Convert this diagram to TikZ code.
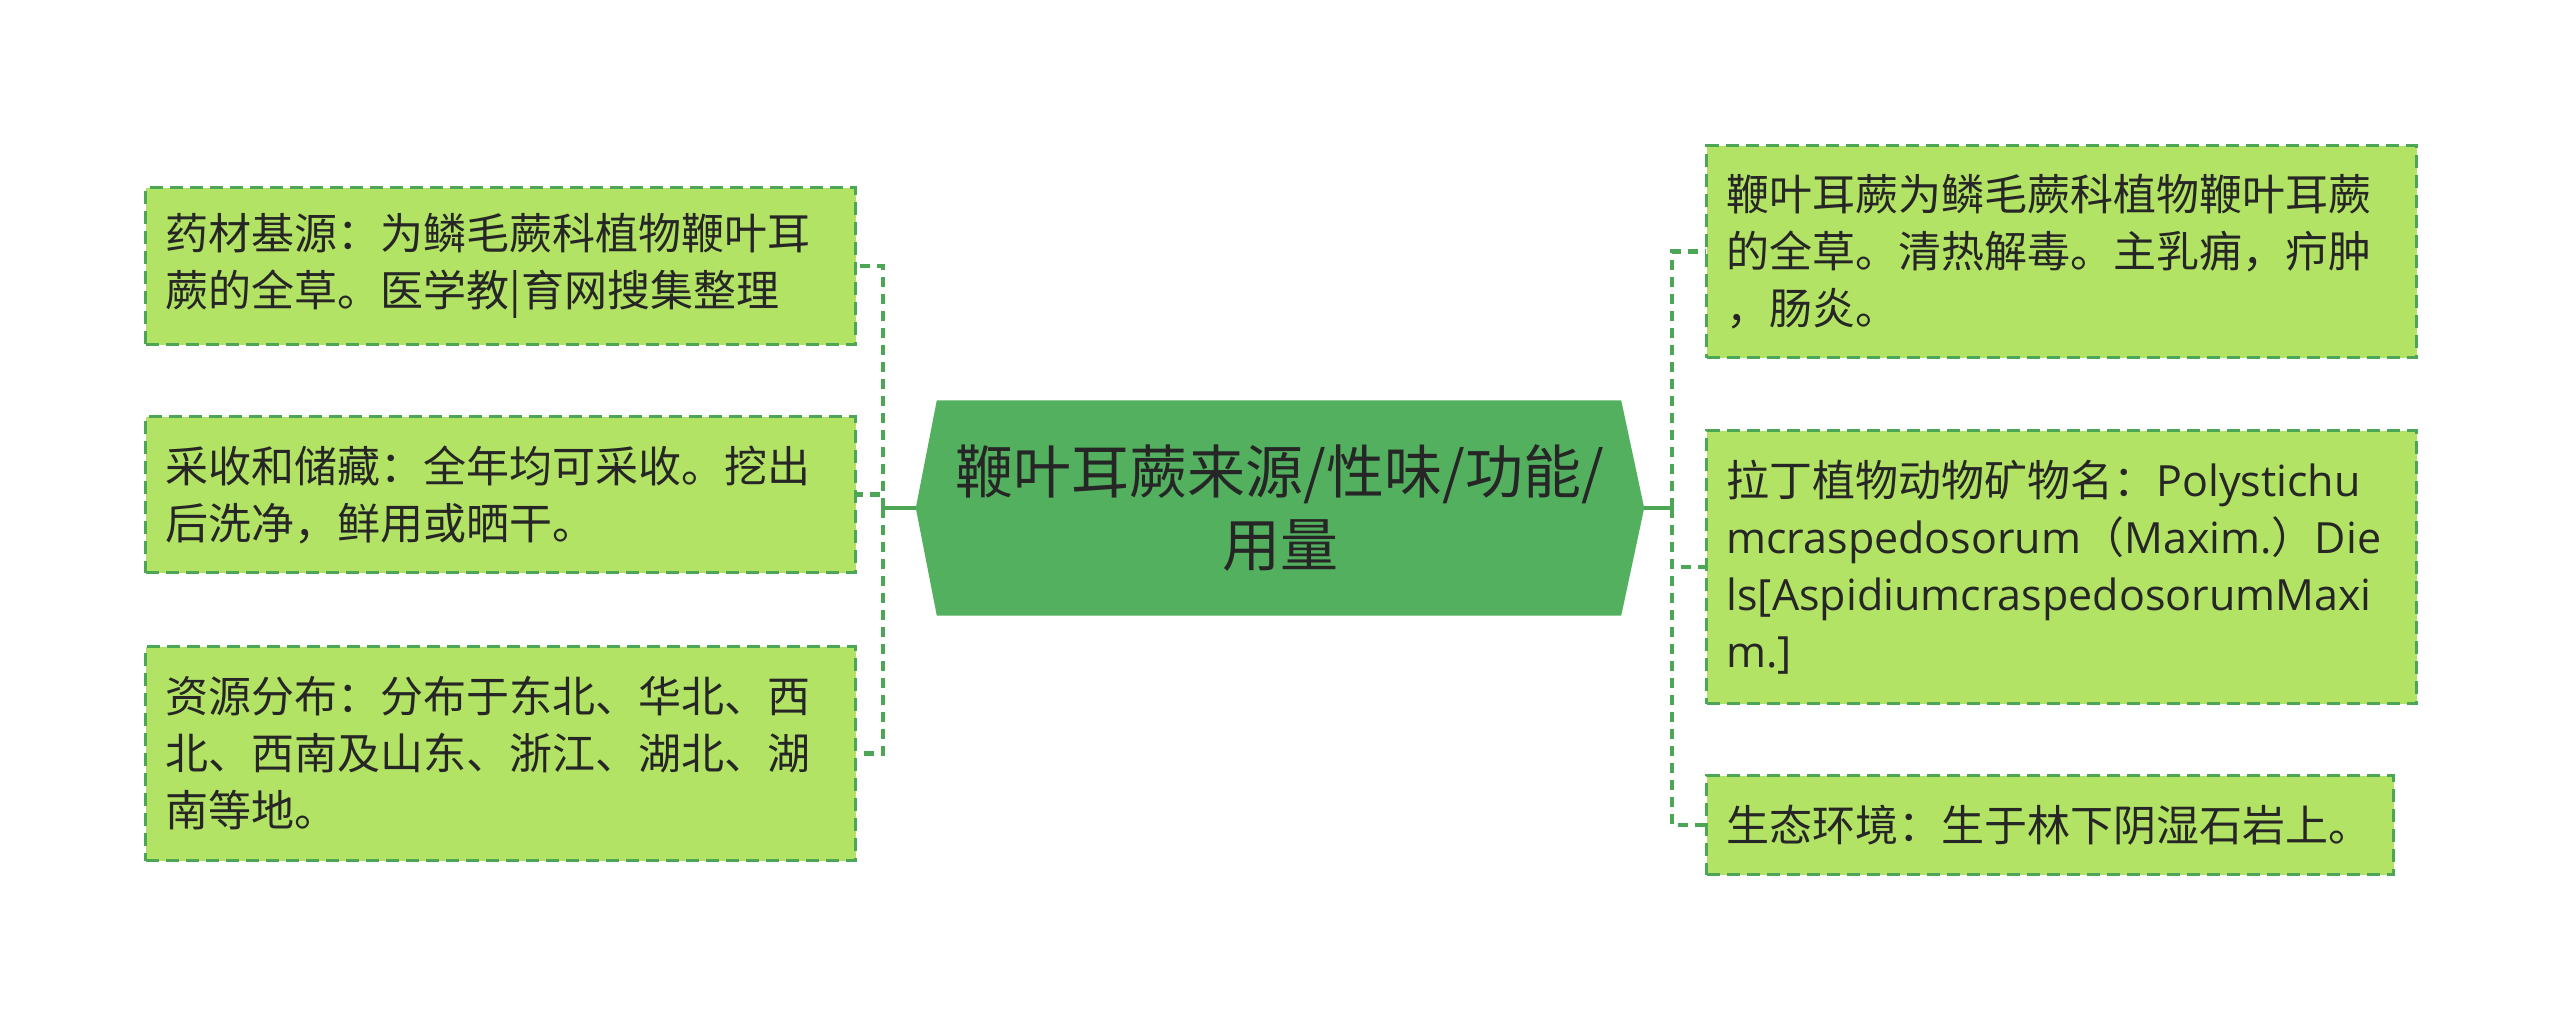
\documentclass[tikz,border=0pt]{standalone}
\usepackage{fontspec}
\setmainfont{Noto Sans CJK SC}
\newfontfamily\latinfont{Open Sans}
\usetikzlibrary{backgrounds}
\definecolor{boxfill}{HTML}{B3E364}
\definecolor{boxline}{HTML}{4DA655}
\definecolor{mainfill}{HTML}{53B05F}
\definecolor{txt}{HTML}{262626}
\tikzset{
  leaf/.style={draw=boxline, fill=boxfill, line width=3pt, dash pattern=on 13pt off 7pt,
    anchor=north west, inner xsep=20pt, inner ysep=0pt, text width=670pt, align=left,
    font=\fontsize{43}{57}\selectfont, text=txt},
  conn/.style={draw=boxline, line width=4.2pt, dash pattern=on 10pt off 7pt},
  stub/.style={draw=boxline, line width=4pt},
  hub/.style={minimum width=728pt, minimum height=215pt, inner sep=0pt, align=center,
    font=\fontsize{58}{73}\selectfont, text=txt}
}
\begin{document}
\begin{tikzpicture}[x=1pt,y=-1pt]
\useasboundingbox (0,0) rectangle (2560,1017);

% centre topic
\node[hub] (hub) at (1280,508) {鞭叶耳蕨来源/性味/功能/\\用量};
\begin{scope}[on background layer]
  \fill[white] (0,0) rectangle (2560,1017);
  \fill[mainfill] (hub.west) -- ([xshift=21pt]hub.north west) -- ([xshift=-23pt]hub.north east)
    -- (hub.east) -- ([xshift=-23pt]hub.south east) -- ([xshift=21pt]hub.south west) -- cycle;
\end{scope}

% left leaves
\node[leaf, minimum height=157pt] (l1) at (144,186)
  {药材基源：为鳞毛蕨科植物鞭叶耳\\蕨的全草。医学教|育网搜集整理};
\node[leaf, minimum height=156pt] (l2) at (144,415)
  {采收和储藏：全年均可采收。挖出\\后洗净，鲜用或晒干。};
\node[leaf, minimum height=214pt] (l3) at (144,645)
  {资源分布：分布于东北、华北、西\\北、西南及山东、浙江、湖北、湖\\南等地。};

% right leaves
\node[leaf, minimum height=212pt] (r1) at (1705,144)
  {鞭叶耳蕨为鳞毛蕨科植物鞭叶耳蕨\\的全草。清热解毒。主乳痈，疖肿\\，肠炎。};
\node[leaf, minimum height=273pt] (r2) at (1705,429)
  {拉丁植物动物矿物名：{\latinfont Polystichu}\\{\latinfont mcraspedosorum}（{\latinfont Maxim.}）{\latinfont Die}\\{\latinfont ls[AspidiumcraspedosorumMaxi}\\{\latinfont m.]}};
\node[leaf, minimum height=99pt, text width=647pt] (r3) at (1705,774)
  {生态环境：生于林下阴湿石岩上。};

% connectors
\coordinate (lj) at (883,508);
\coordinate (rj) at (1672,508);
\draw[stub] (hub.west) -- (lj);
\draw[stub] (hub.east) -- (rj);
\draw[conn] (lj) |- (l1.east);
\draw[conn] (lj) |- (l2.east);
\draw[conn] (lj) |- (l3.east);
\draw[conn] (rj) |- (r1.west);
\draw[conn] (rj) |- (r2.west);
\draw[conn] (rj) |- (r3.west);
\end{tikzpicture}
\end{document}
